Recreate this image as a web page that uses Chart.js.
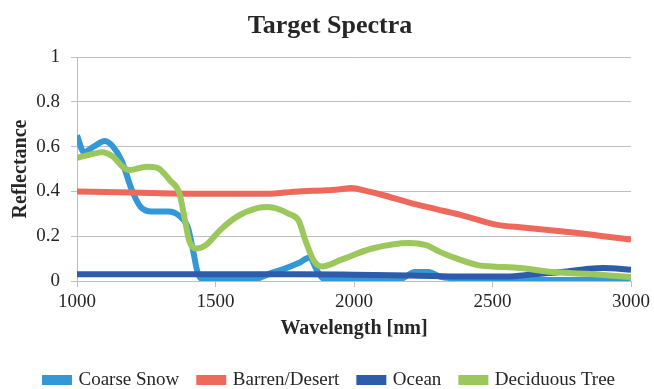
<!DOCTYPE html>
<html>
<head>
<meta charset="utf-8">
<title>Target Spectra</title>
<script src="https://cdn.jsdelivr.net/npm/chart.js@4.4.1/dist/chart.umd.min.js"></script>
<style>
  html, body { margin: 0; padding: 0; background: #ffffff; }
  #wrap { width: 654px; height: 389px; }
</style>
</head>
<body>
<div id="wrap"><canvas id="chart" width="654" height="389"></canvas></div>
<script>
// Reflectance spectra of four surface types, 1000–3000 nm
const xTicks = [1000, 1500, 2000, 2500, 3000];
const yTicks = [0, 0.2, 0.4, 0.6, 0.8, 1];

const snowNm = [1000, 1025, 1060, 1100, 1130, 1160, 1200, 1230, 1270, 1330, 1370, 1400, 1420, 1435, 1450,
                1500, 1600, 1650, 1700, 1750, 1800, 1840, 1865, 1890, 1950, 2100, 2170, 2220, 2270, 2310,
                2400, 2600, 2800, 3000];
const snowR  = [0.65, 0.575, 0.60, 0.625, 0.60, 0.54, 0.40, 0.33, 0.31, 0.31, 0.29, 0.24, 0.13, 0.04, 0.01,
                0.005, 0.005, 0.01, 0.035, 0.055, 0.08, 0.105, 0.05, 0.01, 0.005, 0.005, 0.01, 0.04, 0.04, 0.02,
                0.01, 0.005, 0.005, 0.015];

const desertNm = [1000, 1200, 1400, 1600, 1700, 1750, 1800, 1900, 1950, 1990, 2050, 2100, 2200, 2300, 2400,
                  2500, 2550, 2600, 2700, 2800, 2900, 3000];
const desertR  = [0.40, 0.395, 0.39, 0.39, 0.39, 0.395, 0.40, 0.405, 0.41, 0.415, 0.40, 0.385, 0.35, 0.32, 0.29,
                  0.255, 0.245, 0.24, 0.228, 0.215, 0.20, 0.185];

const oceanNm = [1000, 1500, 1800, 2000, 2200, 2400, 2550, 2650, 2750, 2850, 2900, 3000];
const oceanR  = [0.03, 0.03, 0.03, 0.028, 0.025, 0.02, 0.02, 0.03, 0.04, 0.055, 0.058, 0.05];

const treeNm = [1000, 1050, 1090, 1130, 1165, 1190, 1250, 1290, 1335, 1370, 1390, 1405, 1430, 1465, 1515,
                1575, 1650, 1690, 1765, 1800, 1825, 1855, 1885, 1950, 2065, 2200, 2260, 2310, 2355, 2450,
                2500, 2600, 2715, 2840, 3000];
const treeR  = [0.55, 0.565, 0.575, 0.555, 0.51, 0.495, 0.51, 0.505, 0.45, 0.39, 0.27, 0.18, 0.145, 0.16, 0.225,
                0.285, 0.325, 0.33, 0.30, 0.27, 0.18, 0.09, 0.065, 0.093, 0.145, 0.17, 0.16, 0.13, 0.107, 0.07,
                0.065, 0.058, 0.04, 0.032, 0.018];

const seriesNames = ['Coarse Snow', 'Barren/Desert', 'Ocean', 'Deciduous Tree'];
const seriesColors = ['#3399D6', '#EE685C', '#2C5CAB', '#9CC75C'];

const FONT = "'Liberation Serif', 'Times New Roman', serif";
const INK = '#262626';
const GRID = '#BEBEBE';

function pts(xs, ys) { return xs.map((x, i) => ({ x: x, y: ys[i] })); }

const series = [pts(snowNm, snowR), pts(desertNm, desertR), pts(oceanNm, oceanR), pts(treeNm, treeR)];

const datasets = series.map((data, i) => ({
  label: seriesNames[i],
  data: data,
  borderColor: seriesColors[i],
  backgroundColor: seriesColors[i],
  borderWidth: 6,
  pointRadius: 0,
  pointHoverRadius: 0,
  fill: false,
  cubicInterpolationMode: 'monotone',
  // later series sit on top
  order: series.length - i
}));

// Centre the title and legend on the full canvas width rather than the padded box
const centreOnCanvas = {
  id: 'centreOnCanvas',
  afterLayout(chart) {
    [chart.titleBlock, chart.legend].forEach(box => {
      if (!box) return;
      const w = box.right - box.left;
      const shift = (chart.width - w) / 2 - box.left + 3;
      box.left += shift;
      box.right += shift;
    });
  }
};

new Chart(document.getElementById('chart'), {
  type: 'line',
  data: { datasets: datasets },
  options: {
    responsive: false,
    animation: false,
    events: [],
    layout: { padding: { left: 9, right: 22, top: 0, bottom: -10.5 } },
    plugins: {
      title: {
        display: true,
        text: 'Target Spectra',
        color: INK,
        font: { family: FONT, size: 26, weight: 'bold' },
        padding: { top: 11, bottom: 14.8 }
      },
      legend: {
        position: 'bottom',
        labels: {
          color: INK,
          font: { family: FONT, size: 19 },
          boxWidth: 24,
          boxHeight: 4,
          padding: 20,
          sort: (a, b) => a.datasetIndex - b.datasetIndex
        }
      },
      tooltip: { enabled: false }
    },
    scales: {
      x: {
        type: 'linear',
        min: 1000,
        max: 3000,
        afterBuildTicks: s => { s.ticks = xTicks.map(v => ({ value: v })); },
        afterFit: s => { s.height = 69.5; },
        ticks: {
          color: INK, font: { family: FONT, size: 19 }, padding: 4, maxRotation: 0,
          callback: v => String(v)
        },
        grid: { display: true, drawOnChartArea: false, drawTicks: true, tickLength: 6, color: GRID },
        border: { display: true, color: GRID, width: 1 },
        title: {
          display: true,
          text: 'Wavelength [nm]',
          color: INK,
          font: { family: FONT, size: 20, weight: 'bold' },
          padding: { top: 0, bottom: 9.5 }
        }
      },
      y: {
        min: 0,
        max: 1,
        afterBuildTicks: s => { s.ticks = yTicks.map(v => ({ value: v })); },
        afterFit: s => { s.width = 68; },
        ticks: {
          color: INK, font: { family: FONT, size: 19 }, padding: 11,
          callback: v => String(v)
        },
        grid: { color: GRID, tickLength: 6, lineWidth: 1 },
        border: { display: true, color: GRID, width: 1 },
        title: {
          display: true,
          text: 'Reflectance',
          color: INK,
          font: { family: FONT, size: 20, weight: 'bold' },
          padding: { top: 0, bottom: 0 }
        }
      }
    }
  },
  plugins: [centreOnCanvas]
});
</script>
</body>
</html>
